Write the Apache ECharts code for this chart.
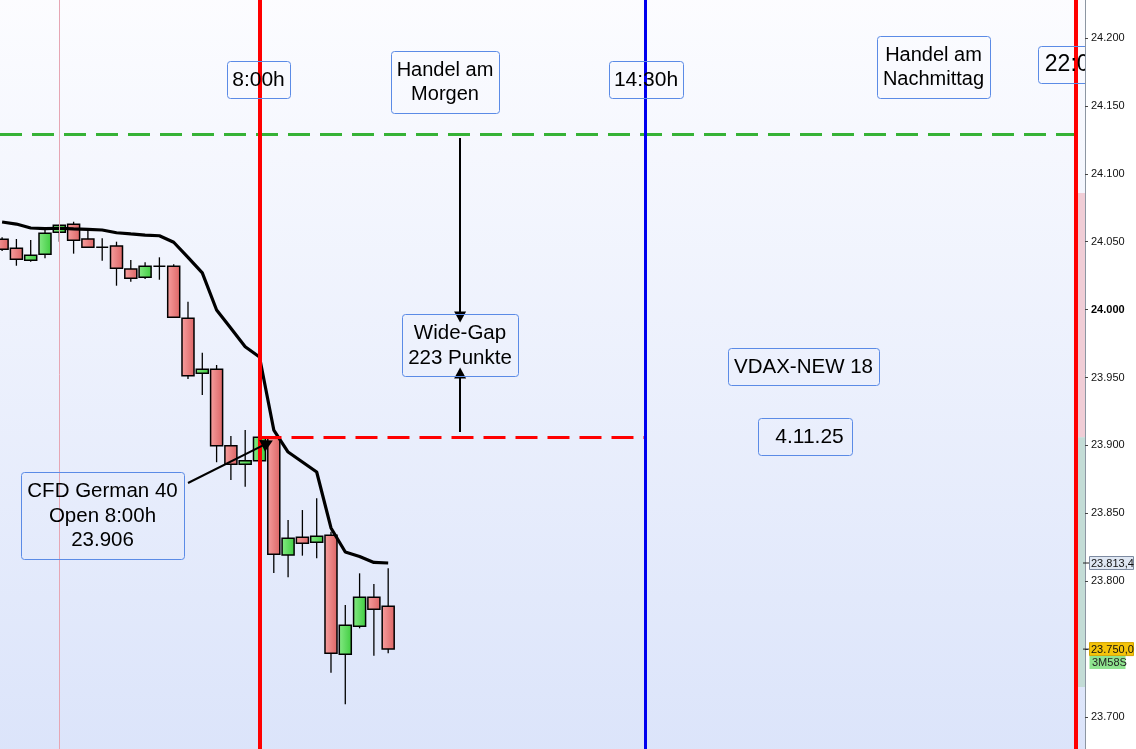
<!DOCTYPE html>
<html>
<head>
<meta charset="utf-8">
<script src="https://cdn.jsdelivr.net/npm/echarts@6/dist/echarts.min.js"></script>
<style>
html,body{margin:0;padding:0;background:#ffffff;}
#c{width:1136px;height:749px;}
</style>
</head>
<body>
<div id="c"></div>
<script>
// ---------- data (15-minute candles, index = slot) ----------
const candleIndex = [0,1,2,3,4,5,6,7,8,9,10,11,12,13,14,15,16,17,18,19,20,21,22,23,24,25,26,27];
const opens  = [24051.8,24045.1,24036.3,24040.7,24056.9,24062.8,24052.0,24045.9,24046.8,24029.9,24023.8,24031.9,24031.9,23993.6,23953.1,23956.0,23899.8,23886.1,23888.7,23906.0,23819.3,23832.3,23828.6,23833.8,23746.2,23766.8,23788.1,23781.5];
const closes = [24044.4,24037.0,24040.0,24056.2,24062.1,24051.0,24045.9,24045.9,24030.4,24023.0,24031.9,24031.9,23994.3,23951.3,23956.0,23899.8,23886.1,23888.7,23906.0,23819.8,23831.6,23827.9,23833.1,23746.9,23767.5,23788.1,23779.3,23750.0];
const lows   = [24043.2,24032.3,24035.3,24037.8,24050.0,24041.2,24045.9,24036.0,24017.6,24020.5,24022.5,24022.0,23994.3,23948.9,23937.1,23887.6,23874.5,23869.6,23888.7,23806.0,23802.9,23818.8,23816.9,23732.6,23709.4,23765.3,23745.1,23746.9];
const highs  = [24053.2,24052.0,24051.3,24059.9,24062.5,24064.7,24058.6,24052.5,24050.0,24036.5,24034.8,24038.5,24033.4,24005.8,23968.3,23959.2,23906.9,23911.3,23906.0,23906.7,23845.1,23852.4,23861.0,23836.5,23782.5,23805.8,23797.9,23809.5];
const movingAvg = [24064.5,24063.0,24060.1,24059.7,24059.9,24059.4,24059.1,24058.6,24056.6,24055.7,24054.9,24054.4,24049.6,24038.4,24027.0,23999.7,23986.2,23972.7,23965.1,23911.3,23895.1,23887.8,23880.4,23839.2,23821.5,23818.2,23813.8,23813.4];

// time markers (slot index)
const timeLabels = ['8:00h','14:30h','22:00h'];
const timeSlots  = [18, 45, 75.08];
const guideSlot  = 4;

// levels
const openLevel  = 23906;   // CFD German 40 open 8:00h
const upperLevel = 24129;   // upper gap level
const gapRangeTop = 24085.9, gapRangeBottom = 23722.1;

// y ticks
const yMin = 23650, yMax = 24250, yStep = 50;

// ---------- helpers ----------
function fmtThousand(v){
  const s = Math.round(v).toString();
  return s.slice(0, s.length-3) + '.' + s.slice(s.length-3);
}
function fmtDecimal(v){
  const n = Math.floor(v), d = Math.round((v - n)*10);
  return fmtThousand(n) + ',' + d;
}
const FONT = "'Liberation Sans', Arial, sans-serif";

const chart = echarts.init(document.getElementById('c'), null, {renderer:'canvas'});

const redFill = new echarts.graphic.LinearGradient(0,0,1,0,[{offset:0,color:'#f7a0a0'},{offset:1,color:'#dc6464'}]);
const greenFill = new echarts.graphic.LinearGradient(0,0,1,0,[{offset:0,color:'#86ea86'},{offset:1,color:'#3fcc3f'}]);

function renderCandle(params, api){
  const i = api.value(0), o = api.value(1), c = api.value(2), l = api.value(3), h = api.value(4);
  const pO = api.coord([i,o]), pC = api.coord([i,c]), pL = api.coord([i,l]), pH = api.coord([i,h]);
  const w = 12;
  const x = pO[0];
  const top = Math.min(pO[1], pC[1]), bot = Math.max(pO[1], pC[1]);
  const fill = c > o ? greenFill : (c < o ? redFill : 'none');
  return {
    type:'group',
    children:[
      {type:'line', shape:{x1:x, y1:pH[1], x2:x, y2:pL[1]}, style:{stroke:'#000', lineWidth:1.3}},
      {type:'rect', shape:{x:x-w/2, y:top, width:w, height:bot-top}, style:{fill:fill, stroke:'#000', lineWidth:1.5}}
    ]
  };
}

// annotation boxes (layout in pixels)
const boxes = [
  {text:timeLabels[0], x:227, y:61, w:63, h:37, size:21},
  {text:'Handel am\nMorgen', x:391, y:51, w:108, h:62, size:20, lh:24},
  {text:timeLabels[1], x:609, y:61, w:74, h:37, size:21},
  {text:'Handel am\nNachmittag', x:877, y:36, w:113, h:62, size:20, lh:24},
  {text:timeLabels[2], x:1038, y:46, w:78, h:37, size:23, dx:3},
  {text:'Wide-Gap\n223 Punkte', x:402, y:314, w:116, h:62, size:20.5, lh:25},
  {text:'VDAX-NEW 18', x:728, y:348, w:151, h:37, size:20.5},
  {text:'4.11.25', x:758, y:418, w:94, h:37, size:21, dx:4.5},
  {text:'CFD German 40\nOpen 8:00h\n' + fmtThousand(openLevel), x:21, y:472, w:163, h:87, size:20.5, lh:24.7}
];

function renderBox(params, api){
  const b = boxes[params.dataIndex];
  return {
    type:'group',
    children:[
      {type:'rect', shape:{x:b.x+0.5, y:b.y+0.5, width:b.w, height:b.h, r:3},
       style:{fill:'none', stroke:'#5b8be6', lineWidth:1}},
      {type:'text', x:b.x + b.w/2 + (b.dx||0), y:b.y + b.h/2 + 0.5,
       style:{text:b.text, fill:'#000', font:b.size+'px '+FONT, align:'center', verticalAlign:'middle',
              textAlign:'center', textVerticalAlign:'middle', lineHeight:b.lh||b.size}}
    ]
  };
}

const option = {
  animation:false,
  backgroundColor:'#ffffff',
  grid:{
    left:0, right:51, top:-29.9, bottom:-35.9,
    show:true, borderWidth:0,
    backgroundColor:new echarts.graphic.LinearGradient(0,0,0,1,[{offset:0,color:'#fdfdff'},{offset:1,color:'#dae3fa'}]),
    outerBoundsMode:'none', containLabel:false
  },
  xAxis:{type:'value', min:-0.147, max:75.73, show:false},
  yAxis:{
    type:'value', position:'right', min:yMin, max:yMax, interval:yStep, z:10,
    axisLine:{show:true, onZero:false, lineStyle:{color:'#8c96a2', width:1}},
    axisTick:{show:true, length:3, lineStyle:{color:'#444'}},
    splitLine:{show:false},
    axisLabel:{
      margin:6, fontSize:11, color:'#111', fontFamily:FONT,
      formatter:function(v){ const t = fmtThousand(v); return v === 24000 ? '{b|'+t+'}' : t; },
      rich:{b:{fontWeight:'bold', fontSize:11, color:'#000', fontFamily:FONT}}
    }
  },
  series:[
    {
      name:'candles', type:'custom', z:2, silent:true,
      renderItem:renderCandle,
      encode:{x:0, y:[1,2,3,4]},
      data:candleIndex.map((x,i)=>[x, opens[i], closes[i], lows[i], highs[i]])
    },
    {
      name:'levels', type:'line', z:3, silent:true, data:[],
      markArea:{
        silent:true,
        data:[
          [{xAxis:timeSlots[2], yAxis:gapRangeTop, itemStyle:{color:'#f0cdd6'}}, {xAxis:75.73, yAxis:openLevel}],
          [{xAxis:timeSlots[2], yAxis:openLevel, itemStyle:{color:'#c3dcd6'}}, {xAxis:75.73, yAxis:gapRangeBottom}]
        ]
      },
      markLine:{
        silent:true, symbol:['none','none'], label:{show:false}, animation:false,
        data:[
          {xAxis:guideSlot, lineStyle:{color:'#e6a6b4', width:1, type:'solid'}},
          [{coord:[-0.147, upperLevel]}, {coord:[timeSlots[2], upperLevel]}],
          [{coord:[timeSlots[0], openLevel], lineStyle:{color:'#ff0000', width:3, type:[22,10]}}, {coord:[timeSlots[1], openLevel]}],
          {xAxis:timeSlots[0], lineStyle:{color:'#ff0000', width:4, type:'solid'}},
          {xAxis:timeSlots[1], lineStyle:{color:'#0000ee', width:3, type:'solid'}},
          {xAxis:timeSlots[2], lineStyle:{color:'#ff0000', width:4, type:'solid'}},
          [{coord:[32.03, 24126.4], symbol:'none', lineStyle:{color:'#000', width:2, type:'solid'}}, {coord:[32.03, 23994.6], symbol:'triangle', symbolSize:[12,11]}],
          [{coord:[32.03, 23909.9], symbol:'none', lineStyle:{color:'#000', width:2, type:'solid'}}, {coord:[32.03, 23953.3], symbol:'triangle', symbolSize:[12,11]}],
          [{coord:[13.0, 23872.3], symbol:'none', lineStyle:{color:'#000', width:2, type:'solid'}}, {coord:[18.56, 23901.6], symbol:'triangle', symbolSize:[13,12]}]
        ],
        lineStyle:{color:'#36b236', width:3, type:[22,10]}
      }
    },
    {
      name:'MA', type:'line', z:4, silent:true, symbol:'none', smooth:false,
      lineStyle:{color:'#000', width:3.2}, itemStyle:{color:'#000'},
      data:candleIndex.map((x,i)=>[x, movingAvg[i]])
    },
    {
      name:'notes', type:'custom', z:6, silent:true, clip:true,
      renderItem:renderBox,
      encode:{x:0, y:1},
      data:boxes.map((b,i)=>[i, 24000])
    }
  ]
};
chart.setOption(option);

// value tags on the price axis
const lastMA = movingAvg[movingAvg.length-1];
const lastClose = closes[closes.length-1];
const yMA = chart.convertToPixel({yAxisIndex:0}, lastMA);
const yLast = chart.convertToPixel({yAxisIndex:0}, lastClose);
chart.setOption({
  graphic:[
    {type:'line', shape:{x1:1083, y1:yMA, x2:1089, y2:yMA}, style:{stroke:'#222', lineWidth:1}, z:20},
    {type:'rect', shape:{x:1089.5, y:yMA-6.5, width:44, height:13}, style:{fill:'#dfe7f3', stroke:'#7d8aa0', lineWidth:1}, z:20},
    {type:'text', x:1091, y:yMA+0.5, style:{text:fmtDecimal(lastMA), font:'11px '+FONT, fill:'#111', verticalAlign:'middle', textVerticalAlign:'middle'}, z:21},
    {type:'line', shape:{x1:1083, y1:yLast, x2:1089, y2:yLast}, style:{stroke:'#222', lineWidth:1}, z:20},
    {type:'rect', shape:{x:1089.5, y:yLast-6.5, width:44, height:13}, style:{fill:'#f5c40a', stroke:'#d2a400', lineWidth:1}, z:20},
    {type:'text', x:1091, y:yLast+0.5, style:{text:fmtDecimal(lastClose), font:'11px '+FONT, fill:'#111', verticalAlign:'middle', textVerticalAlign:'middle'}, z:21},
    {type:'rect', shape:{x:1089.5, y:yLast+7, width:36, height:13}, style:{fill:'#8fe38f'}, z:20},
    {type:'text', x:1092, y:yLast+13.5, style:{text:'3M58S', font:'11px '+FONT, fill:'#222', verticalAlign:'middle', textVerticalAlign:'middle'}, z:21}
  ]
});
</script>
</body>
</html>
